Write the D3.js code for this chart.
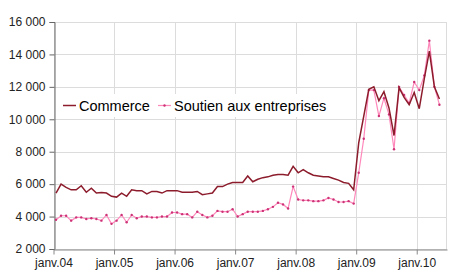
<!DOCTYPE html>
<html>
<head>
<meta charset="utf-8">
<script src="https://cdn.jsdelivr.net/npm/d3@7"></script>
<style>
  body { margin: 0; background: #fff; }
  text { font-family: "Liberation Sans", Arial, sans-serif; }
</style>
</head>
<body>
<script>
// monthly values, janv.2004 -> mai 2010
var commerce = [
  5450, 6000, 5800, 5650, 5650, 5900, 5500, 5750, 5450, 5480, 5450, 5250,
  5200, 5450, 5250, 5650, 5600, 5600, 5400, 5550, 5550, 5450, 5600, 5600,
  5600, 5500, 5500, 5500, 5550, 5350, 5400, 5450, 5850, 5850, 6000, 6100,
  6100, 6100, 6500, 6150, 6300, 6400, 6450, 6550, 6600, 6600, 6550, 7100,
  6700, 6900, 6700, 6550, 6500, 6450, 6450, 6350, 6250, 6100, 6050, 5650,
  8550, 10200, 11850, 12000, 11150, 11700, 10700, 9000, 11950, 11350, 10900, 11650,
  10650, 12500, 14200, 12000, 11250
];
var soutien = [
  3800, 4050, 4050, 3750, 3950, 3950, 3850, 3900, 3850, 3750, 4100, 3550,
  3750, 4100, 3650, 4100, 3900, 4000, 4000, 3950, 3950, 4000, 4000, 4250,
  4250, 4150, 4150, 3950, 4300, 4100, 3950, 4050, 4350, 4300, 4300, 4450,
  4000, 4150, 4300, 4300, 4300, 4350, 4450, 4600, 4850, 4750, 4500, 5850,
  5050, 5000, 5000, 4950, 4950, 5000, 5150, 5050, 4900, 4900, 4950, 4800,
  6700, 8800, 11800, 11800, 10200, 11300, 10300, 8150, 12000, 11500, 11000, 12300,
  11800, 12700, 14850, 12000, 10900
];
var yearLabels = ["janv.04", "janv.05", "janv.06", "janv.07", "janv.08", "janv.09", "janv.10"];
var yTicks = [2000, 4000, 6000, 8000, 10000, 12000, 14000, 16000];
var nMonths = 78;

var width = 450, height = 280;
var margin = {top: 22, right: 3, bottom: 31, left: 53.5};

var svg = d3.select("body").append("svg")
    .attr("width", width)
    .attr("height", height);

var x = d3.scaleLinear()
    .domain([0, nMonths])
    .range([margin.left, width - margin.right]);

var y = d3.scaleLinear()
    .domain([2000, 16000])
    .range([height - margin.bottom, margin.top]);

var fmt = function(d) { return d3.format(",")(d).replace(",", " "); };

// grid
var grid = svg.append("g").attr("stroke", "#dcdcdc").attr("stroke-width", 1);
grid.selectAll("line.h")
  .data(yTicks)
  .enter().append("line")
    .attr("x1", margin.left).attr("x2", width - margin.right)
    .attr("y1", function(d) { return Math.round(y(d)) + 0.5; })
    .attr("y2", function(d) { return Math.round(y(d)) + 0.5; });
grid.selectAll("line.v")
  .data(yearLabels)
  .enter().append("line")
    .attr("x1", function(d, i) { return Math.round(x(i * 12)) + 0.5; })
    .attr("x2", function(d, i) { return Math.round(x(i * 12)) + 0.5; })
    .attr("y1", margin.top).attr("y2", height - margin.bottom);
grid.append("line")
    .attr("x1", Math.round(x(nMonths)) - 0.5).attr("x2", Math.round(x(nMonths)) - 0.5)
    .attr("y1", margin.top).attr("y2", height - margin.bottom);

// axes
var yAxis = svg.append("g")
    .attr("transform", "translate(" + (Math.round(margin.left) + 0.5) + ",0)")
    .call(d3.axisLeft(y).tickValues(yTicks).tickFormat(fmt).tickSize(5).tickPadding(4));
yAxis.select(".domain").attr("stroke", "#666");
yAxis.selectAll(".tick line").attr("stroke", "#666");
yAxis.selectAll("text").attr("font-size", "12px").attr("fill", "#222")
    .style("font-family", "'Liberation Sans', Arial, sans-serif");

var xAxis = svg.append("g")
    .attr("transform", "translate(0," + (Math.round(y(2000)) + 0.5) + ")")
    .call(d3.axisBottom(x).tickValues(yearLabels.map(function(d, i) { return i * 12; }))
      .tickFormat(function(d, i) { return yearLabels[i]; }).tickSize(5).tickSizeOuter(0).tickPadding(4));
xAxis.select(".domain").attr("stroke", "#888");
xAxis.selectAll(".tick line").attr("stroke", "#888");
xAxis.selectAll("text").attr("font-size", "12px").attr("fill", "#222")
    .style("font-family", "'Liberation Sans', Arial, sans-serif");

// lines
var line = d3.line()
    .x(function(d, i) { return x(i + 0.5); })
    .y(function(d) { return y(d); });

svg.append("path")
    .datum(soutien)
    .attr("fill", "none")
    .attr("stroke", "#ff88bb")
    .attr("stroke-width", 1.2)
    .attr("d", line);

svg.selectAll("circle.s")
  .data(soutien)
  .enter().append("circle")
    .attr("cx", function(d, i) { return x(i + 0.5); })
    .attr("cy", function(d) { return y(d); })
    .attr("r", 1.2)
    .attr("fill", "#cc3377");

svg.append("path")
    .datum(commerce)
    .attr("fill", "none")
    .attr("stroke", "#8c1c2c")
    .attr("stroke-width", 1.5)
    .attr("d", line);

// legend
var legend = svg.append("g");
legend.append("rect")
    .attr("x", 57).attr("y", 94).attr("width", 274).attr("height", 23)
    .attr("fill", "#fff");
legend.append("line")
    .attr("x1", 63).attr("x2", 76).attr("y1", 105.5).attr("y2", 105.5)
    .attr("stroke", "#8c1c2c").attr("stroke-width", 1.5);
legend.append("text")
    .attr("x", 79).attr("y", 110.5)
    .attr("font-size", "14.5px").attr("fill", "#000")
    .text("Commerce");
legend.append("line")
    .attr("x1", 158).attr("x2", 171).attr("y1", 105.5).attr("y2", 105.5)
    .attr("stroke", "#ff88bb").attr("stroke-width", 1.2);
legend.append("circle")
    .attr("cx", 164.5).attr("cy", 105.5).attr("r", 1.2).attr("fill", "#cc3377");
legend.append("text")
    .attr("x", 174).attr("y", 110.5)
    .attr("font-size", "14.5px").attr("fill", "#000")
    .text("Soutien aux entreprises");
</script>
</body>
</html>
